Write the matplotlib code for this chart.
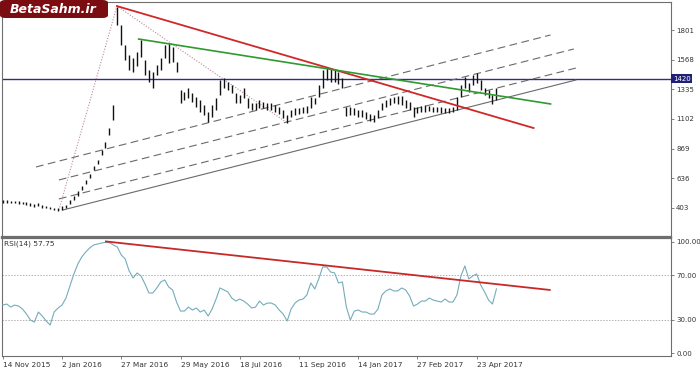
import matplotlib
matplotlib.use('Agg')
import matplotlib.pyplot as plt
from matplotlib.patches import FancyBboxPatch

# ---------------- data ----------------
bar_high = [466, 466, 458, 458, 458, 450, 450, 443, 434, 443,
            427, 419, 411, 403, 403, 419, 427, 466, 497, 537,
            576, 623, 670, 733, 780, 858, 921, 1031, 1212, 1982,
            1840, 1683, 1605, 1581, 1628, 1722, 1565, 1487, 1471, 1526,
            1581, 1683, 1699, 1667, 1550, 1330, 1314, 1346, 1306, 1275,
            1251, 1212, 1157, 1212, 1267, 1408, 1424, 1393, 1369, 1306,
            1291, 1346, 1267, 1228, 1228, 1251, 1235, 1228, 1228, 1212,
            1196, 1173, 1133, 1173, 1188, 1188, 1196, 1204, 1275, 1267,
            1369, 1487, 1503, 1503, 1487, 1471, 1424, 1196, 1196, 1188,
            1173, 1173, 1157, 1141, 1133, 1173, 1228, 1251, 1267, 1275,
            1283, 1283, 1251, 1235, 1196, 1196, 1204, 1212, 1204, 1196,
            1196, 1196, 1188, 1188, 1196, 1275, 1369, 1432, 1385, 1448,
            1463, 1408, 1346, 1330, 1291, 1346]
bar_low = [443, 443, 443, 443, 434, 434, 427, 419, 411, 419,
           403, 403, 395, 387, 380, 387, 403, 434, 466, 497,
           544, 592, 638, 701, 749, 819, 874, 976, 1094, 1840,
           1683, 1565, 1487, 1471, 1518, 1589, 1448, 1393, 1346, 1448,
           1487, 1581, 1542, 1550, 1471, 1228, 1251, 1267, 1235, 1196,
           1157, 1133, 1078, 1118, 1173, 1291, 1346, 1330, 1306, 1228,
           1228, 1267, 1188, 1173, 1173, 1188, 1188, 1173, 1173, 1157,
           1141, 1110, 1071, 1118, 1133, 1141, 1149, 1149, 1188, 1220,
           1275, 1346, 1408, 1393, 1393, 1377, 1346, 1125, 1133, 1133,
           1118, 1118, 1102, 1086, 1078, 1110, 1173, 1196, 1212, 1228,
           1220, 1212, 1188, 1173, 1118, 1149, 1157, 1157, 1165, 1157,
           1157, 1149, 1149, 1149, 1157, 1173, 1275, 1346, 1314, 1369,
           1385, 1330, 1291, 1267, 1220, 1251]
rsi_values = [43.2, 44.1, 41.4, 43.2, 42.3, 39.6, 35.1, 29.7, 27.9, 36.9,
              33.3, 28.8, 25.2, 36.9, 40.5, 43.2, 49.5, 60.4, 71.2, 80.2,
              86.5, 91.0, 94.6, 97.3, 98.2, 99.1, 99.6, 99.4, 97.3, 95.5,
              88.3, 84.7, 73.9, 67.6, 72.1, 69.4, 62.2, 54.1, 54.1, 58.6,
              64.0, 65.8, 59.5, 56.8, 45.9, 37.8, 37.8, 41.4, 38.7, 40.5,
              36.9, 38.7, 33.3, 39.6, 48.6, 58.6, 56.8, 55.0, 49.5, 46.8,
              48.6, 46.8, 44.1, 40.5, 41.4, 46.8, 43.2, 45.0, 45.0, 43.2,
              38.7, 35.1, 28.8, 39.6, 45.0, 47.7, 48.6, 52.3, 63.1, 57.7,
              66.7, 77.5, 77.5, 73.0, 72.1, 63.1, 64.0, 41.4, 29.7, 37.8,
              38.7, 36.9, 36.9, 35.1, 35.1, 39.6, 52.3, 55.9, 57.7, 55.9,
              55.9, 58.6, 56.8, 51.4, 42.3, 44.1, 46.8, 46.8, 49.5, 47.7,
              46.8, 45.9, 48.6, 45.9, 45.9, 52.3, 69.4, 78.4, 66.7, 69.4,
              71.2, 61.3, 55.0, 47.7, 44.1, 57.75]

date_labels = ['14 Nov 2015', '2 Jan 2016', '27 Mar 2016', '29 May 2016',
               '18 Jul 2016', '11 Sep 2016', '14 Jan 2017', '27 Feb 2017',
               '23 Apr 2017']
date_tick_bars = [0, 15, 30, 45, 60, 75, 90, 105, 120]
price_ticks = [403, 636, 869, 1102, 1335, 1568, 1801]
rsi_ticks = [0, 30, 70, 100]
rsi_levels = [30, 70]
level_price = 1420
rsi_last = 57.75

# drawn objects: (bar index pair, value pair)
red_trend_x, red_trend_y = [28.9, 134.4], [1989, 1031]
green_trend_x, green_trend_y = [34.4, 138.7], [1730, 1220]
zigzag_x, zigzag_y = [14.2, 28.9, 71.7], [387, 1989, 1078]
channel_solid_x, channel_solid_y = [15.2, 145.1], [387, 1408]
channel_dashed = [([14.2, 145.1], [474, 1502]),
                  ([14.2, 144.6], [623, 1652]),
                  ([8.4, 138.7], [725, 1762])]
rsi_trend_x, rsi_trend_y = [26.1, 138.5], [100.5, 56.8]

# ---------------- figure ----------------
W, H = 700, 369
fig = plt.figure(figsize=(W / 100, H / 100), dpi=100)
fig.patch.set_facecolor('white')

L = 2 / W
R = 671 / W
ax = fig.add_axes([L, 1 - 237 / H, R - L, (237 - 2) / H])
axr = fig.add_axes([L, 1 - 356 / H, R - L, (356 - 238) / H], sharex=ax)

xs = list(range(len(bar_high)))
spine_col = '#6e6e6e'
txt_col = '#333333'
fs = 5.0

# main panel
ax.hlines(level_price, -5, 200, color='#2e2e82', lw=1.0, zorder=2)
ax.plot(channel_solid_x, channel_solid_y, color='#6a6a6a', lw=0.8, zorder=2)
for cx, cy in channel_dashed:
    ax.plot(cx, cy, color='#6a6a6a', lw=0.8, dashes=(7, 4), zorder=2)
ax.plot(zigzag_x, zigzag_y, color='#b58a9a', lw=0.8, ls=(0, (1, 1.5)), zorder=2)
ax.vlines(xs, bar_low, bar_high, color='#111111', lw=1.0, zorder=3)
ax.plot(red_trend_x, red_trend_y, color='#d02828', lw=1.3, zorder=4)
ax.plot(green_trend_x, green_trend_y, color='#2f9a2f', lw=1.2, zorder=4)

ax.set_xlim(-0.2, 169.2)
ax.set_ylim(175, 2021)
ax.yaxis.tick_right()
ax.set_yticks(price_ticks)
ax.set_yticklabels([str(v) for v in price_ticks])
ax.tick_params(axis='y', direction='out', length=2.5, width=0.6, colors=spine_col,
               labelcolor=txt_col, labelsize=fs, pad=1.2)
ax.tick_params(axis='x', bottom=False, labelbottom=False)
for s in ax.spines.values():
    s.set_color(spine_col)
    s.set_linewidth(0.8)
ax.spines['bottom'].set_linewidth(1.6)
ax.text(1.003, level_price, str(level_price), transform=ax.get_yaxis_transform(),
        ha='left', va='center', fontsize=fs, color='white', zorder=10,
        bbox=dict(boxstyle='square,pad=0.25', fc='#20207a', ec='none'))

# logo
logo = FancyBboxPatch((0, 1 - 18 / H), 108 / W, 18 / H, transform=fig.transFigure,
                      boxstyle='round,pad=0,rounding_size=0.008', fc='#7a0c12',
                      ec='none', zorder=20)
fig.patches.append(logo)
fig.text(10 / W, 1 - 9.5 / H, 'BetaSahm.ir', color='white', fontsize=9,
         fontweight='bold', fontstyle='italic', ha='left', va='center', zorder=21)

# RSI panel
for lv in rsi_levels:
    axr.axhline(lv, color='#b0b0b0', lw=0.7, ls=(0, (1.5, 1.5)), zorder=1)
axr.plot(xs, rsi_values, color='#74acbd', lw=0.8, zorder=3)
axr.plot(rsi_trend_x, rsi_trend_y, color='#c82828', lw=1.3, zorder=4)
axr.set_ylim(-2.7, 103.6)
axr.yaxis.tick_right()
axr.set_yticks(rsi_ticks)
axr.set_yticklabels(['%.2f' % v for v in rsi_ticks])
axr.tick_params(axis='y', direction='out', length=2.5, width=0.6, colors=spine_col,
                labelcolor=txt_col, labelsize=fs, pad=1.2)
axr.set_xticks(date_tick_bars)
axr.set_xticklabels(date_labels)
axr.tick_params(axis='x', direction='out', length=2.5, width=0.6, colors=spine_col,
                labelcolor=txt_col, labelsize=fs + 0.3, pad=1.5)
for lab in axr.get_xticklabels():
    lab.set_ha('left')
for s in axr.spines.values():
    s.set_color(spine_col)
    s.set_linewidth(0.8)
axr.spines['top'].set_linewidth(1.6)
axr.text(0.003, 0.975, 'RSI(14) %.2f' % rsi_last, transform=axr.transAxes,
         ha='left', va='top', fontsize=fs + 0.3, color=txt_col)

fig.savefig('out.png', dpi=100, facecolor='white')
